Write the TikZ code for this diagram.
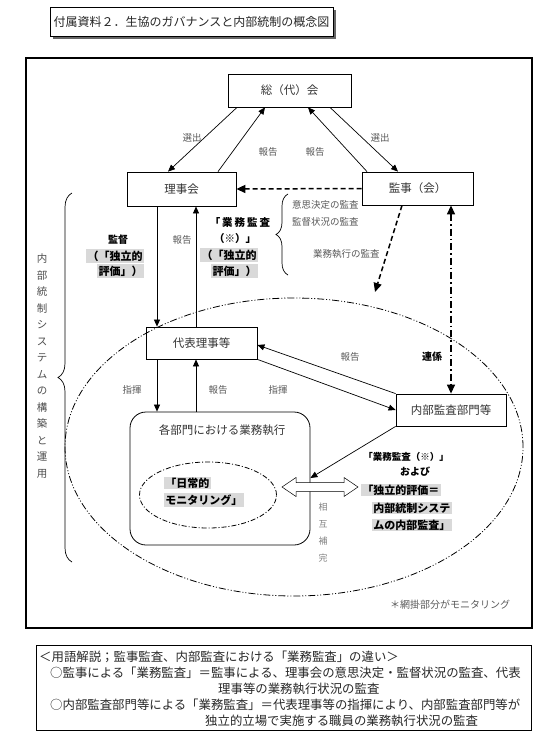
\documentclass[tikz,border=0pt]{standalone}
\usepackage{fontspec}
\setmainfont{Noto Sans CJK JP}
\usetikzlibrary{arrows.meta,shapes.geometric,decorations.pathreplacing}
\begin{document}
\begin{tikzpicture}[x=1pt,y=-1pt,
  box/.style={draw, line width=0.8pt, inner sep=0pt, font=\fontsize{11.5}{13}\selectfont, text=black!80},
  lbl/.style={font=\fontsize{9.5}{11}\selectfont, text=black!65, inner sep=0pt},
  bld/.style={font=\bfseries\fontsize{10}{12}\selectfont, inner sep=0pt},
  hl/.style={fill=black!15, font=\bfseries\fontsize{11}{12}\selectfont, inner sep=1.2pt},
  arr/.style={line width=0.7pt, -{Triangle[length=7pt,width=6pt]}},
  dasharr/.style={line width=1.5pt, dash pattern=on 5pt off 3pt, -{Triangle[length=9pt,width=8pt]}},
  dotarr/.style={line width=1.3pt, dash pattern=on 7pt off 3pt on 1.5pt off 3pt, {Triangle[length=9pt,width=8pt]}-{Triangle[length=9pt,width=8pt]}},
  ddline/.style={line width=0.8pt, dash pattern=on 7pt off 2pt on 1pt off 2pt on 1pt off 2pt},
  dline/.style={line width=0.8pt, dash pattern=on 5pt off 2pt on 1pt off 2pt}
]
\useasboundingbox (0,0) rectangle (551,744);
% title
\fill[black!60] (53,10) rectangle (336,39);
\node[draw, fill=white, line width=0.5pt, minimum width=283pt, minimum height=29pt, inner sep=0pt,
  font=\fontsize{12}{14}\selectfont, text=black!85] (title) at (191.5,21.5) {付属資料２．生協のガバナンスと内部統制の概念図};
% frame
\draw[line width=1.1pt] (26,58) rectangle (532,628);
% ellipses and departments
\node[draw, ellipse, ddline, minimum width=458pt, minimum height=298pt, inner sep=0pt] (bigell) at (294,447) {};
\node[draw, rounded corners=16pt, line width=0.8pt, minimum width=180pt, minimum height=133pt, inner sep=0pt] (bumon) at (220,478.5) {};
\node[font=\fontsize{11.5}{13}\selectfont, text=black!80, inner sep=0pt] (bumont) at (222,430) {各部門における業務執行};
\node[draw, ellipse, dline, minimum width=137pt, minimum height=66pt, inner sep=0pt] (moni) at (208,495) {};
% boxes
\node[box, minimum width=123pt, minimum height=33pt] (soukai) at (289.5,90.5) {総（代）会};
\node[box, minimum width=109pt, minimum height=34pt] (rijikai) at (181.5,189) {理事会};
\node[box, minimum width=111pt, minimum height=33pt] (kanji) at (417.5,188.5) {監事（会）};
\node[box, minimum width=111pt, minimum height=32pt] (daihyo) at (201.5,343) {代表理事等};
\node[box, minimum width=110pt, minimum height=32pt] (naibu) at (451,410) {内部監査部門等};
% connectors
\draw[arr] (237,0 |- soukai.south) -- (168,0 |- rijikai.north);
\draw[arr] (218,0 |- rijikai.north) -- (265,0 |- soukai.south);
\draw[arr] (367,0 |- kanji.north) -- (308,0 |- soukai.south);
\draw[arr] (330,0 |- soukai.south) -- (398,0 |- kanji.north);
\draw[dasharr] (kanji.west) -- (rijikai.east);
\draw[arr] (157,0 |- rijikai.south) -- (157,0 |- daihyo.north);
\draw[arr] (196,0 |- daihyo.north) -- (196,0 |- rijikai.south);
\coordinate (kend) at (375,292);
\draw[dasharr] (402,0 |- kanji.south) -- (kend);
\draw[dotarr] (451,0 |- kanji.south) -- (naibu.north);
\draw[arr] (157,0 |- daihyo.south) -- (157,0 |- bumon.north);
\draw[arr] (196,0 |- bumon.north) -- (196,0 |- daihyo.south);
\draw[arr] (naibu.north west) -- (daihyo.east |- 0,345);
\draw[arr] (daihyo.south east) -- (naibu.west);
\draw[arr] (naibu.south west) -- (bumon.east |- 0,478);
% hollow double arrow
\coordinate (da) at (282,487);
\draw[line width=0.5pt, fill=white] (da) -- ++(14,-9.5) -- ++(0,5) -- ++(48,0) -- ++(0,-5) -- ++(14,9.5)
  -- ++(-14,9.5) -- ++(0,-5) -- ++(-48,0) -- ++(0,5) -- cycle;
% braces
\draw[line width=0.7pt, decorate, decoration={brace, amplitude=14pt}] (72,562) -- (72,193);
\draw[line width=0.7pt, decorate, decoration={brace, amplitude=12pt}] (288,275) -- (288,194);
% vertical texts
\node[font=\fontsize{10.5}{16.5}\selectfont, align=center, text=black!70, inner sep=0pt] (vtext) at (42,366)
  {内\\部\\統\\制\\シ\\ス\\テ\\ム\\の\\構\\築\\と\\運\\用};
\node[font=\fontsize{9}{17}\selectfont, align=center, text=black!50, inner sep=0pt] (sogo) at (323,533)
  {相\\互\\補\\完};
% labels
\node[lbl] (l1) at (192,138) {選出};
\node[lbl] (l2) at (268,152) {報告};
\node[lbl] (l3) at (315,152) {報告};
\node[lbl] (l4) at (380,138) {選出};
\node[lbl] (l5) at (182,240) {報告};
\node[lbl] (l6) at (132,390) {指揮};
\node[lbl] (l7) at (218,390) {報告};
\node[lbl] (l8) at (278,390) {指揮};
\node[lbl] (l9) at (350,357) {報告};
\node[bld] (renkei) at (432,357) {連係};
\node[lbl, anchor=west] (a1) at (292,205) {意思決定の監査};
\node[lbl, anchor=west] (a2) at (292,222) {監督状況の監査};
\node[lbl, anchor=west] (a3) at (313,254) {業務執行の監査};
% left group
\node[bld] (kantoku) at (118,240) {監督};
\node[hl, anchor=east] (hl1) at (144,256) {（「独立的};
\node[hl, anchor=east] (hl2) at (144,271) {評価」）};
% middle group
\node[bld, font=\bfseries\fontsize{10.5}{12}\selectfont] (gy1) at (240,223) {「\kern2pt 業\kern2pt 務\kern2pt 監\kern2pt 査};
\node[bld, font=\bfseries\fontsize{10.5}{12}\selectfont] (gy2) at (235,239) {（※）」};
\node[hl, anchor=east] (hl3) at (258,255) {（「独立的};
\node[hl, anchor=east] (hl4) at (258,271) {評価」）};
% right group
\node[bld, font=\bfseries\fontsize{9.5}{11}\selectfont] (r1) at (406,457) {「業務監査（※）」};
\node[bld] (r2) at (415,472) {および};
\node[hl, anchor=west] (hl5) at (361,490) {「独立的評価＝};
\node[hl, anchor=west] (hl6) at (372,508) {内部統制システ};
\node[hl, anchor=west] (hl7) at (372,525) {ムの内部監査」};
% monitoring
\node[hl, anchor=west] (hl8) at (164,483) {「日常的};
\node[hl, anchor=west] (hl9) at (164,500) {モニタリング」};
\node[lbl, font=\fontsize{10}{12}\selectfont] (note) at (450,605) {＊網掛部分がモニタリング};
% legend
\draw[line width=0.6pt] (36,645) rectangle (531,730);
\begin{scope}[every node/.style={anchor=west, inner sep=0pt, font=\fontsize{12.4}{14}\selectfont, text=black!85}]
\node (g1) at (39,657) {＜用語解説；監事監査、内部監査における「業務監査」の違い＞};
\node (g2) at (50,673) {○監事による「業務監査」＝監事による、理事会の意思決定・監督状況の監査、代表};
\node (g3) at (218,689) {理事等の業務執行状況の監査};
\node (g4) at (50,705) {○内部監査部門等による「業務監査」＝代表理事等の指揮により、内部監査部門等が};
\node (g5) at (205,721) {独立的立場で実施する職員の業務執行状況の監査};
\end{scope}
\end{tikzpicture}
\end{document}
